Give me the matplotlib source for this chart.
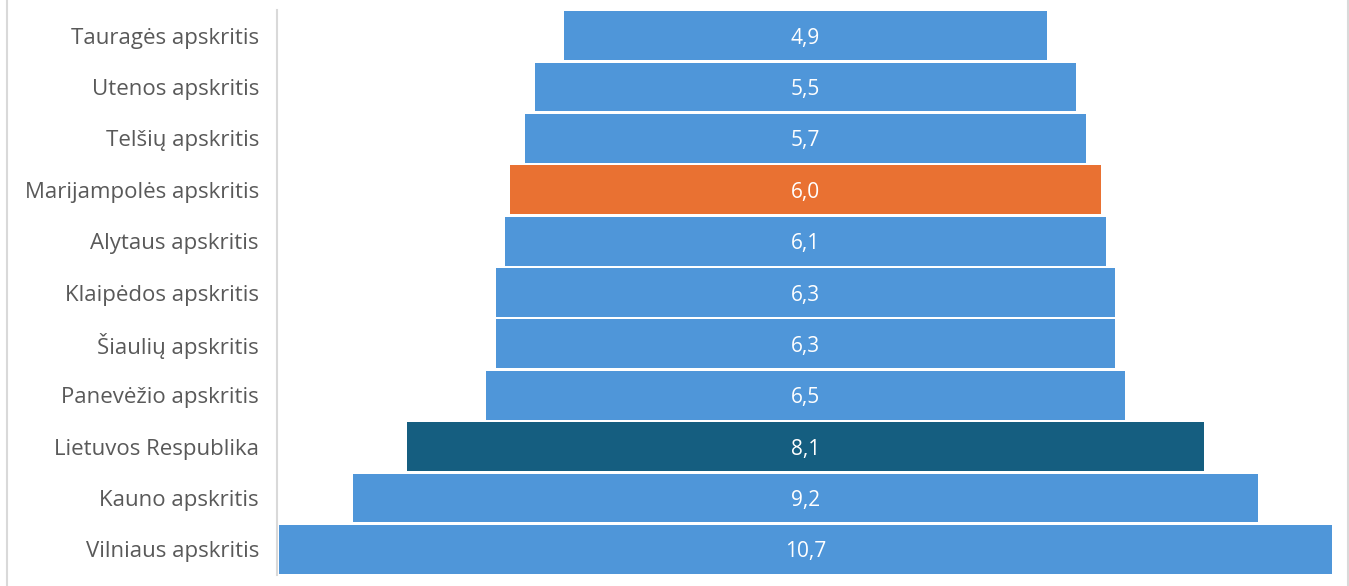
import matplotlib.pyplot as plt
from matplotlib.patches import Rectangle

regions = ['Vilniaus apskritis', 'Kauno apskritis', 'Lietuvos Respublika',
           'Panevėžio apskritis', 'Šiaulių apskritis', 'Klaipėdos apskritis',
           'Alytaus apskritis', 'Marijampolės apskritis', 'Telšių apskritis',
           'Utenos apskritis', 'Tauragės apskritis']
values = [10.7, 9.2, 8.1, 6.5, 6.3, 6.3, 6.1, 6.0, 5.7, 5.5, 4.9]

blue = '#4F96D9'
colors = [blue] * len(values)
colors[regions.index('Lietuvos Respublika')] = '#155E80'
colors[regions.index('Marijampolės apskritis')] = '#E97132'

plt.rcParams['font.family'] = ['Open Sans', 'DejaVu Sans']

fig = plt.figure(figsize=(13.49, 5.86), dpi=100)
ax = fig.add_axes([277 / 1349, 11 / 586, 1057 / 1349, 565 / 586])

y = list(range(len(values)))
lefts = [-v / 2 for v in values]
ax.barh(y, values, left=lefts, height=0.95, color=colors)

for yi, v in zip(y, values):
    ax.text(0, yi, f'{v:.1f}'.replace('.', ','), ha='center',
            va='center_baseline', color='white', fontsize=15)

half = max(values) / 2 * 1057 / 1053
ax.set_xlim(-half, half)
ax.set_ylim(-0.5, len(values) - 0.5)
ax.set_yticks(y)
ax.set_yticklabels(regions, fontsize=16, color='#595959')
for lbl in ax.get_yticklabels():
    lbl.set_va('center_baseline')
ax.tick_params(axis='y', length=0, pad=13)
ax.set_xticks([])
for s in ['top', 'right', 'bottom']:
    ax.spines[s].set_visible(False)
ax.spines['left'].set_color('#D9D9D9')
ax.spines['left'].set_linewidth(1.5)

# light frame around the chart
fig.patches.append(Rectangle((7 / 1349, -0.1), 1341 / 1349, 1.2,
                             transform=fig.transFigure, fill=False,
                             edgecolor='#D9D9D9', linewidth=1.5))

fig.savefig('out.png', dpi=100)
